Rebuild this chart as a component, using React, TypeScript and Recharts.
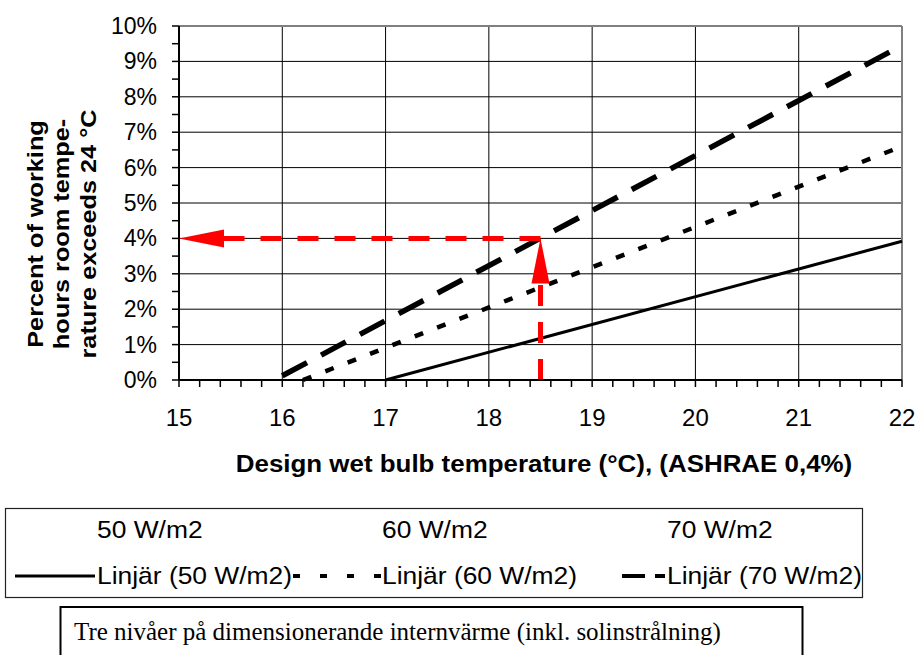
import React from "react";
import { LineChart, Line, XAxis, YAxis, CartesianGrid, ReferenceLine } from "recharts";

// Design wet bulb temperature (°C) and share of working hours above 24 °C (%)
const heatLoads = ["50 W/m2", "60 W/m2", "70 W/m2"];
const temp50 = [17, 22];
const share50 = [0, 3.92];
const temp60 = [16.2, 22];
const share60 = [0, 6.6];
const temp70 = [16, 22];
const share70 = [0.12, 9.45];

const xMajorTicks = [15, 16, 17, 18, 19, 20, 21, 22];
const yMajorTicks = [0, 1, 2, 3, 4, 5, 6, 7, 8, 9, 10];

// design point (red arrows)
const designTemp = 18.5;
const designShare = 4;

const zip = (xs: number[], ys: number[]) => xs.map((t, i) => ({ t, p: ys[i] }));
const data50 = zip(temp50, share50);
const data60 = zip(temp60, share60);
const data70 = zip(temp70, share70);

const xTicks: number[] = [];
for (let i = 0; i < (xMajorTicks.length - 1) * 5 + 1; i++) xTicks.push(Math.round((15 + i * 0.2) * 10) / 10);
const yTicks: number[] = [];
for (let i = 0; i < (yMajorTicks.length - 1) * 2 + 1; i++) yTicks.push(i * 0.5);

const isMajor = (v: number) => Math.abs(v - Math.round(v)) < 1e-6;
const SANS = "Arial, 'Liberation Sans', sans-serif";
const SERIF = "'Times New Roman', 'Liberation Serif', serif";

const XTick = (props: any) => {
  const { x, y, payload } = props;
  if (!isMajor(payload.value)) return <g />;
  return (
    <text x={x} y={y + 37} textAnchor="middle" fontSize={24} fontFamily={SANS} fill="#000">
      {payload.value}
    </text>
  );
};

const YTick = (props: any) => {
  const { x, y, payload } = props;
  if (!isMajor(payload.value)) return <g />;
  return (
    <text x={x} y={y + 8} textAnchor="end" fontSize={23} fontFamily={SANS} fill="#000">
      {`${payload.value}%`}
    </text>
  );
};

// dashed red line with a filled arrow head at the second point
const Arrow = (props: any) => {
  const { x1, y1, x2, y2 } = props;
  const len = Math.hypot(x2 - x1, y2 - y1);
  const ux = (x2 - x1) / len;
  const uy = (y2 - y1) / len;
  const head = 45;
  const half = 9;
  const bx = x2 - ux * head;
  const by = y2 - uy * head;
  const pts = [
    [x2, y2],
    [bx - uy * half, by + ux * half],
    [bx + uy * half, by - ux * half],
  ]
    .map((p) => p.join(","))
    .join(" ");
  return (
    <g>
      <line x1={x1} y1={y1} x2={bx} y2={by} stroke="#ff0000" strokeWidth={5} strokeDasharray="21 16" />
      <polygon points={pts} fill="#ff0000" />
    </g>
  );
};

const YTitle = () => {
  const lines = ["Percent of working", "hours room tempe-", "rature exceeds 24 °C"];
  const xs = [43, 69, 96];
  return (
    <g>
      {lines.map((s, i) => (
        <text
          key={s}
          transform={`translate(${xs[i]},234) rotate(-90) scale(1.15,1)`}
          textAnchor="middle"
          fontSize={22}
          fontWeight="bold"
          fontFamily={SANS}
          fill="#000"
        >
          {s}
        </text>
      ))}
    </g>
  );
};

const XTitle = () => (
  <text
    transform="translate(544,472) scale(1.08,1)"
    textAnchor="middle"
    fontSize={24}
    fontWeight="bold"
    fontFamily={SANS}
    fill="#000"
  >
    Design wet bulb temperature (°C), (ASHRAE 0,4%)
  </text>
);

const legendX = [97, 382, 667];
const samples = [
  { x1: 15, x2: 95, dash: undefined, w: 3 },
  { x1: 293, x2: 381, dash: "7 20", w: 4 },
  { x1: 622, x2: 665, dash: "23 10", w: 4 },
];

const LegendBox = () => (
  <svg width={917} height={155} style={{ position: "absolute", left: 0, top: 500 }}>
    <rect x={5.5} y={8.5} width={857} height={89} fill="#fff" stroke="#222" strokeWidth={1.2} />
    {heatLoads.map((name, i) => (
      <g key={name}>
        <text transform={`translate(${legendX[i]},38) scale(1.1,1)`} fontSize={24} fontFamily={SANS} fill="#000">
          {name}
        </text>
        <line
          x1={samples[i].x1}
          x2={samples[i].x2}
          y1={76}
          y2={76}
          stroke="#000"
          strokeWidth={samples[i].w}
          strokeDasharray={samples[i].dash}
        />
        <text transform={`translate(${legendX[i]},84) scale(1.1,1)`} fontSize={24} fontFamily={SANS} fill="#000">
          {`Linjär (${name})`}
        </text>
      </g>
    ))}
    <rect x={60.5} y={107} width={742} height={70} fill="#fff" stroke="#000" strokeWidth={2} />
    <text x={74} y={140} fontSize={25} fontFamily={SERIF} fill="#000">
      Tre nivåer på dimensionerande internvärme (inkl. solinstrålning)
    </text>
  </svg>
);

export default function App() {
  return (
    <div style={{ position: "absolute", left: 0, top: 0, width: 917, height: 655, background: "#fff" }}>
      <LineChart width={917} height={500} margin={{ top: 26, right: 15, left: 0, bottom: 0 }}>
        <CartesianGrid
          stroke="#000"
          strokeWidth={1}
          verticalValues={xMajorTicks.slice(1, -1)}
          horizontalValues={yMajorTicks.slice(1, -1)}
        />
        <XAxis
          type="number"
          dataKey="t"
          domain={[15, 22]}
          ticks={xTicks}
          interval={0}
          height={120}
          tickSize={7}
          tickMargin={2}
          tick={<XTick />}
          axisLine={{ stroke: "#000", strokeWidth: 2 }}
          tickLine={{ stroke: "#000", strokeWidth: 1.5 }}
          allowDuplicatedCategory={false}
        />
        <YAxis
          type="number"
          domain={[0, 10]}
          ticks={yTicks}
          interval={0}
          width={179}
          tickSize={7}
          tickMargin={15}
          tick={<YTick />}
          axisLine={{ stroke: "#000", strokeWidth: 2 }}
          tickLine={{ stroke: "#000", strokeWidth: 1.5 }}
        />
        <ReferenceLine y={10} stroke="#808080" strokeWidth={2} />
        <ReferenceLine x={22} stroke="#808080" strokeWidth={2} />
        <Line
          data={data50}
          dataKey="p"
          name={`Linjär (${heatLoads[0]})`}
          type="linear"
          stroke="#000"
          strokeWidth={3}
          dot={false}
          isAnimationActive={false}
        />
        <Line
          data={data60}
          dataKey="p"
          name={`Linjär (${heatLoads[1]})`}
          type="linear"
          stroke="#000"
          strokeWidth={4.5}
          strokeDasharray="9 15"
          dot={false}
          isAnimationActive={false}
        />
        <Line
          data={data70}
          dataKey="p"
          name={`Linjär (${heatLoads[2]})`}
          type="linear"
          stroke="#000"
          strokeWidth={5.5}
          strokeDasharray="28 16"
          dot={false}
          isAnimationActive={false}
        />
        <ReferenceLine
          segment={[
            { x: designTemp, y: designShare },
            { x: 15, y: designShare },
          ]}
          shape={<Arrow />}
        />
        <ReferenceLine
          segment={[
            { x: designTemp, y: 0 },
            { x: designTemp, y: designShare },
          ]}
          shape={<Arrow />}
        />
        <YTitle />
        <XTitle />
      </LineChart>
      <LegendBox />
    </div>
  );
}
